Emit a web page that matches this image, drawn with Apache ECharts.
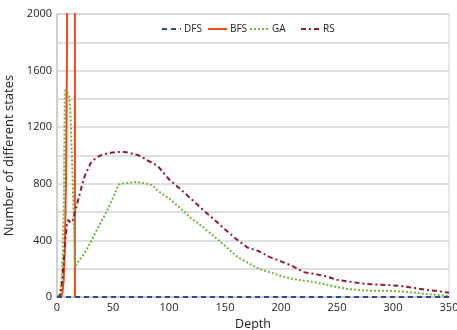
<!DOCTYPE html>
<html>
<head>
<meta charset="utf-8">
<script src="https://cdn.jsdelivr.net/npm/echarts@6/dist/echarts.min.js"></script>
<style>
  html, body { margin: 0; padding: 0; background: #fff; }
  #chart { width: 457px; height: 330px; }
</style>
</head>
<body>
<div id="chart"></div>
<script>
// depth values shared by all series
const depths = [0, 1, 2, 3, 4, 5, 6, 7, 8, 9, 10, 11, 12, 13, 14, 15, 16, 17, 18, 20, 22, 25,
  30, 35, 40, 45, 50, 55, 60, 65, 70, 75, 80, 85, 90, 100, 110, 120, 130, 140, 150, 160,
  170, 180, 190, 200, 210, 220, 230, 240, 250, 260, 270, 280, 290, 300, 310, 320, 330, 340, 350];

const dfsValues = depths.map(() => 0);

// BFS blows past the top of the axis between depth 9 and 16
const bfsValues = [0, 0, 0, 2, 10, 40, 120, 350, 800, 1800, 20000, 100000, 100000, 100000,
  100000, 100000, 0];

const gaValues = [0, 0, 0, 40, 130, 300, 600, 1460, 1458, 1450, 1435, 1415, 1300, 1060, 830,
  540, 215, 228, 240, 262, 280, 315, 385, 465, 540, 615, 700, 795, 803, 808, 812, 808, 800,
  790, 750, 697, 629, 555, 497, 430, 362, 290, 243, 200, 175, 148, 128, 116, 105, 88, 70, 56,
  49, 45, 45, 42, 38, 30, 21, 14, 7];

const rsValues = [0, 0, 5, 20, 70, 140, 250, 350, 450, 520, 545, 540, 525, 520, 540, 570,
  595, 625, 660, 720, 780, 860, 945, 985, 1005, 1015, 1022, 1025, 1025, 1018, 1008, 995, 968,
  948, 925, 832, 763, 692, 618, 550, 478, 410, 350, 325, 282, 252, 220, 176, 163, 146, 122,
  110, 98, 90, 87, 82, 75, 63, 50, 42, 30];

const yTicks = [0, 400, 800, 1200, 1600, 2000];

function pairs(values) {
  return values.map((v, i) => [depths[i], v]);
}

const font = 'Open Sans';
const textColor = '#222';

const chart = echarts.init(document.getElementById('chart'));

const legendBase = {
  top: 24,
  padding: 0,
  itemWidth: 19,
  itemHeight: 8,
  itemGap: 4,
  itemStyle: { opacity: 0 },
  textStyle: { fontFamily: font, fontSize: 10, color: textColor, padding: [0, 0, 0, -2] },
};

const option = {
  animation: false,
  textStyle: { fontFamily: font },
  legend: [
    Object.assign({ left: 161, data: ['DFS'] }, legendBase),
    Object.assign({ left: 207, data: ['BFS'] }, legendBase),
    Object.assign({ left: 249, data: ['GA'] }, legendBase),
    Object.assign({ left: 300, data: ['RS'] }, legendBase),
  ],
  grid: {
    left: 57,
    right: 8,
    top: 14,
    bottom: 33,
    outerBoundsMode: 'none',
    containLabel: false,
    show: true,
    borderColor: '#d0d0d0',
    borderWidth: 1,
  },
  xAxis: {
    type: 'value',
    min: 0,
    max: 350,
    interval: 50,
    name: 'Depth',
    nameLocation: 'middle',
    nameGap: 20,
    nameTextStyle: { fontFamily: font, fontSize: 12.5, color: textColor },
    axisLine: { show: true, lineStyle: { color: '#c8c8c8', width: 1.5 } },
    axisTick: { show: false },
    splitLine: { show: false },
    axisLabel: { fontFamily: font, fontSize: 11, color: textColor, margin: 5 },
  },
  yAxis: {
    type: 'value',
    min: 0,
    max: 2000,
    interval: 200,
    name: 'Number of different states',
    nameLocation: 'middle',
    nameGap: 38,
    nameTextStyle: { fontFamily: font, fontSize: 13, color: textColor },
    axisLine: { show: true, lineStyle: { color: '#c8c8c8', width: 1.5 } },
    axisTick: { show: false },
    splitLine: { show: true, lineStyle: { color: '#d4d4d4', width: 1.5 } },
    axisLabel: {
      fontFamily: font,
      fontSize: 11,
      color: textColor,
      margin: 5,
      formatter: (v) => (yTicks.includes(v) ? String(v) : ''),
    },
  },
  series: [
    {
      name: 'DFS',
      type: 'line',
      symbol: 'none',
      data: pairs(dfsValues),
      lineStyle: { color: '#2E4B8B', width: 2, type: [5, 4] },
      itemStyle: { color: '#2E4B8B' },
      z: 5,
    },
    {
      name: 'BFS',
      type: 'line',
      symbol: 'none',
      clip: true,
      data: pairs(bfsValues),
      lineStyle: { color: '#EE4A1C', width: 2 },
      itemStyle: { color: '#EE4A1C' },
      z: 3,
    },
    {
      name: 'GA',
      type: 'line',
      symbol: 'none',
      data: pairs(gaValues),
      lineStyle: { color: '#72B53C', width: 2, type: [2, 2] },
      itemStyle: { color: '#72B53C' },
      z: 4,
    },
    {
      name: 'RS',
      type: 'line',
      symbol: 'none',
      data: pairs(rsValues),
      lineStyle: { color: '#8B1E2E', width: 2, type: [5, 3, 2, 3] },
      itemStyle: { color: '#8B1E2E' },
      z: 4,
    },
  ],
};

chart.setOption(option);
</script>
</body>
</html>
